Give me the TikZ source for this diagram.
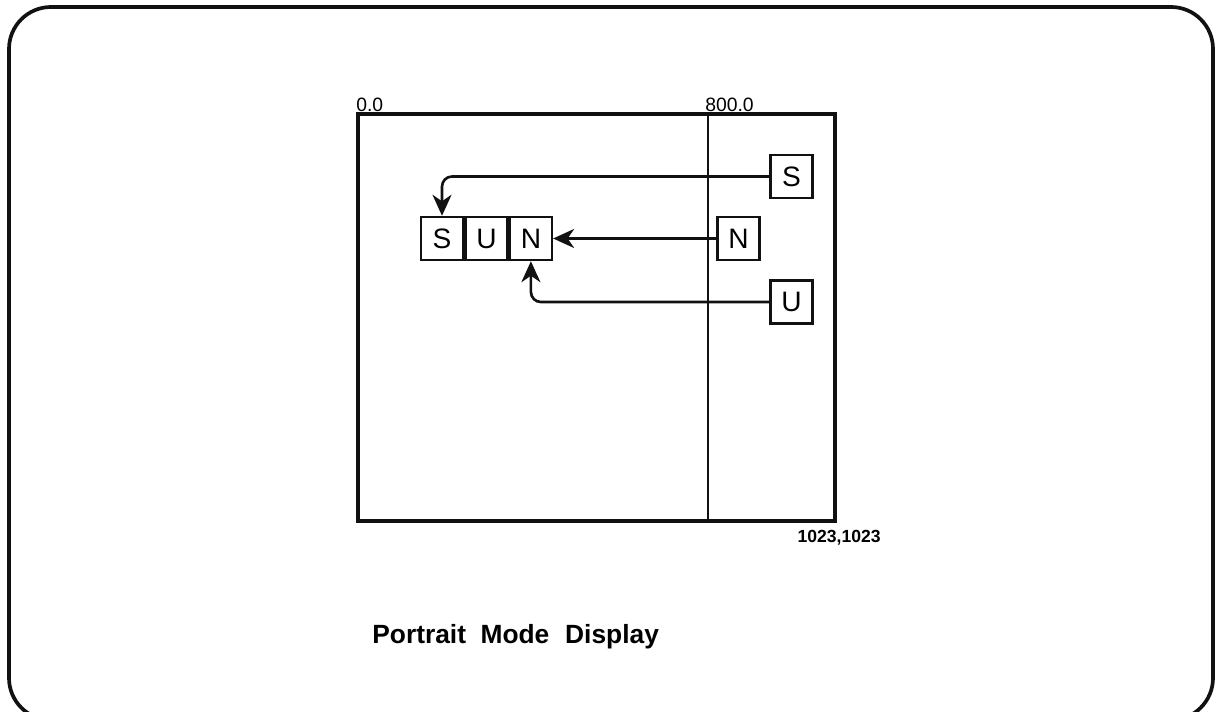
\documentclass[tikz,border=0pt]{standalone}
\usepackage{fontspec}
\setmainfont{Liberation Sans}
\usetikzlibrary{arrows.meta,positioning}
\definecolor{inkblack}{HTML}{111111}
\tikzset{
  letterbox/.style={
    draw=inkblack,
    line width=1.4pt,
    minimum width=0.84cm,
    minimum height=0.86cm,
    inner sep=0pt,
    font=\fontsize{16}{18}\selectfont
  },
  screenbox/.style={
    draw=inkblack,
    line width=2.4pt,
    minimum width=9.54cm,
    minimum height=8.14cm,
    inner sep=0pt
  },
  letterarrow/.style={
    -{Stealth[length=4.2mm,width=3.8mm,inset=1.3mm]},
    line width=1.5pt,
    draw=inkblack,
    rounded corners=0.2cm
  },
  scalelabel/.style={
    inner sep=0pt,
    font=\fontsize{11}{13}\selectfont
  }
}
\begin{document}
\begin{tikzpicture}[x=0.02cm, y=-0.02cm]
    \useasboundingbox (0,0) rectangle (1217,712);
    \draw[inkblack, line width=2.1pt, rounded corners=0.84cm] (9,7) rectangle (1213,720);

    % screen
    \node[screenbox] (screen) at (596.5,317.5) {};
    \coordinate (split) at (708,114);
    \draw[inkblack, line width=1.5pt] (split) -- (split |- screen.south);
    \node[scalelabel, anchor=south west] (origin) at (356,112) {0.0};
    \node[scalelabel, anchor=south west] (splitlabel) at (705,112) {800.0};
    \node[scalelabel, anchor=north east, font=\bfseries\fontsize{10}{12}\selectfont] (corner) at (881,530) {1023,1023};

    % the word
    \node[letterbox] (sunS) at (442,238.5) {S};
    \node[letterbox, right=0pt of sunS] (sunU) {U};
    \node[letterbox, right=0pt of sunU] (sunN) {N};

    % incoming letters
    \node[letterbox] (inS) at (791.5,176.5) {S};
    \node[letterbox] (inN) at (738.5,238.5) {N};
    \node[letterbox] (inU) at (791.5,302) {U};

    \draw[letterarrow] (inS.west) -| (sunS.north);
    \draw[letterarrow] (inN.west) -- (sunN.east);
    \draw[letterarrow] (inU.west) -| (sunN.south);

    \node[anchor=base west, inner sep=0pt, font=\bfseries\fontsize{15}{17}\selectfont] (title) at (372,643)
        {Portrait\hspace{0.55em}Mode\hspace{0.6em}Display};
\end{tikzpicture}
\end{document}
